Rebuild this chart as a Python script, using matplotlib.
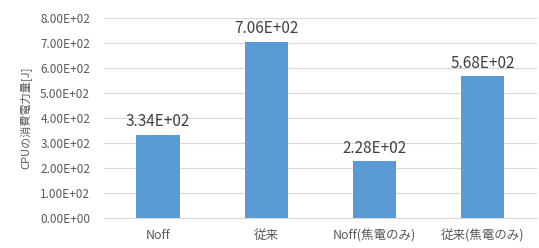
import matplotlib
matplotlib.use('Agg')
import matplotlib.pyplot as plt
from matplotlib.ticker import FuncFormatter

# データ
categories = ['Noff', '従来', 'Noff(焦電のみ)', '従来(焦電のみ)']
energy_j = [334, 706, 228, 568]
y_ticks = [0, 100, 200, 300, 400, 500, 600, 700, 800]

plt.rcParams['font.family'] = ['Noto Sans CJK JP', 'DejaVu Sans']

fig = plt.figure(figsize=(5.39, 2.48), dpi=100)
ax = fig.add_axes([0.193, 0.121, 0.803, 0.806])

x = range(len(categories))
bars = ax.bar(x, energy_j, width=0.4, color='#5B9BD5', zorder=3)

for b, v in zip(bars, energy_j):
    ax.annotate(f"{v:.2E}", (b.get_x() + b.get_width() / 2, v),
                xytext=(0, 3), textcoords='offset points',
                ha='center', va='bottom', fontsize=11, color='#404040')

ax.set_xlim(-0.5, len(categories) - 0.5)
ax.set_ylim(0, 800)
ax.set_yticks(y_ticks)
ax.yaxis.set_major_formatter(FuncFormatter(lambda v, p: f"{v:.2E}"))
ax.set_xticks(list(x))
ax.set_xticklabels(categories)
ax.grid(axis='y', color='#D9D9D9', linewidth=0.8, zorder=0)
for s in ['top', 'right', 'left']:
    ax.spines[s].set_visible(False)
ax.spines['bottom'].set_color('#D9D9D9')
ax.tick_params(axis='both', length=0, colors='#595959')
ax.tick_params(axis='x', pad=8, labelsize=9)
ax.tick_params(axis='y', pad=10, labelsize=8.5)
ax.set_ylabel('CPUの消費電力量[J]', fontsize=8, color='#595959', labelpad=6)

plt.savefig('out.png', dpi=100)
